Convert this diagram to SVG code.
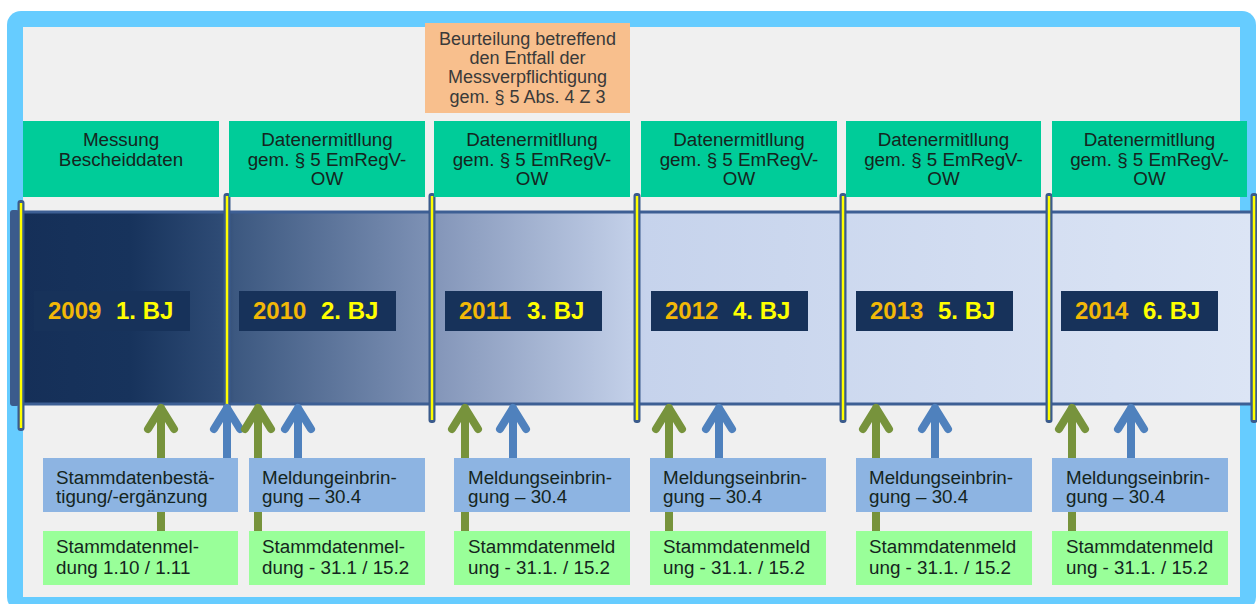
<svg xmlns="http://www.w3.org/2000/svg" width="1257" height="604" viewBox="0 0 1257 604">
<defs>
<linearGradient id="bandGrad" gradientUnits="userSpaceOnUse" x1="14" y1="0" x2="1252" y2="0">
<stop offset="0" stop-color="#152F58"/>
<stop offset="0.094" stop-color="#17335C"/>
<stop offset="0.17" stop-color="#2F4C76"/>
<stop offset="0.178" stop-color="#3C5880"/>
<stop offset="0.332" stop-color="#7C90B4"/>
<stop offset="0.344" stop-color="#8597BA"/>
<stop offset="0.498" stop-color="#C2CFE8"/>
<stop offset="0.51" stop-color="#C6D3EC"/>
<stop offset="1" stop-color="#DCE5F5"/>
</linearGradient>
<style>
.frame{fill:#66CCFF}
.inner{fill:#F0F0F0}
.green{fill:#00CC99}
.orange{fill:#F8BF8D}
.blue{fill:#8DB4E2}
.lgreen{fill:#99FF99}
.lbl{fill:#17325A}
.sep{fill:#3B5B8C}
.sepy{stroke:#FFFF00;stroke-width:2.5}
.t{font-family:"Liberation Sans",Arial,sans-serif;font-size:18.8px;fill:#152520}
.tc{text-anchor:middle}
.to{font-family:"Liberation Sans",Arial,sans-serif;font-size:18px;fill:#3A3A3A;text-anchor:middle}
.yr{font-family:"Liberation Sans",Arial,sans-serif;font-size:24px;font-weight:bold;fill:#F2B807}
.bj{font-family:"Liberation Sans",Arial,sans-serif;font-size:24px;font-weight:bold;fill:#FFFF00}
.ag{stroke:#77933C;stroke-width:8;fill:none;stroke-linecap:round;stroke-linejoin:round}
.ab{stroke:#4F81BD;stroke-width:8;fill:none;stroke-linecap:round;stroke-linejoin:round}
</style>
</defs>
<g id="background">
<rect class="frame" x="7" y="11" width="1249" height="600" rx="14"/>
<rect class="inner" x="23" y="27" width="1217" height="570"/>
</g>
<g id="band">
<rect x="14" y="212" width="1238" height="192" fill="url(#bandGrad)" stroke="#3D5F94" stroke-width="3"/>
<rect class="sep" x="10" y="210" width="9" height="196" rx="3"/>
</g>
<g id="separators">
<rect class="sep" x="17.5" y="200" width="7" height="231" rx="3"/><line class="sepy" x1="21" y1="203" x2="21" y2="428"/>
<rect class="sep" x="223.5" y="193" width="7" height="230" rx="3"/><line class="sepy" x1="227" y1="196" x2="227" y2="420"/>
<rect class="sep" x="428.5" y="193" width="7" height="230" rx="3"/><line class="sepy" x1="432" y1="196" x2="432" y2="420"/>
<rect class="sep" x="633.5" y="193" width="7" height="230" rx="3"/><line class="sepy" x1="637" y1="196" x2="637" y2="420"/>
<rect class="sep" x="839.5" y="193" width="7" height="230" rx="3"/><line class="sepy" x1="843" y1="196" x2="843" y2="420"/>
<rect class="sep" x="1045.5" y="193" width="7" height="230" rx="3"/><line class="sepy" x1="1049" y1="196" x2="1049" y2="420"/>
<rect class="sep" x="1250.5" y="193" width="7" height="230" rx="3"/><line class="sepy" x1="1254" y1="196" x2="1254" y2="420"/>
</g>
<g id="year1"><rect class="lbl" x="34" y="291" width="156" height="40"/><text class="yr" x="48" y="319">2009</text><text class="bj" x="116" y="319">1. BJ</text></g>
<g id="year2"><rect class="lbl" x="239" y="291" width="157" height="40"/><text class="yr" x="253" y="319">2010</text><text class="bj" x="321" y="319">2. BJ</text></g>
<g id="year3"><rect class="lbl" x="445" y="291" width="157" height="40"/><text class="yr" x="459" y="319">2011</text><text class="bj" x="527" y="319">3. BJ</text></g>
<g id="year4"><rect class="lbl" x="651" y="291" width="157" height="40"/><text class="yr" x="665" y="319">2012</text><text class="bj" x="733" y="319">4. BJ</text></g>
<g id="year5"><rect class="lbl" x="856" y="291" width="157" height="40"/><text class="yr" x="870" y="319">2013</text><text class="bj" x="938" y="319">5. BJ</text></g>
<g id="year6"><rect class="lbl" x="1061" y="291" width="157" height="40"/><text class="yr" x="1075" y="319">2014</text><text class="bj" x="1143" y="319">6. BJ</text></g>
<g id="assessment"><rect class="orange" x="425" y="23" width="205" height="90"/>
<text class="to" x="527.5" y="45">Beurteilung betreffend</text>
<text class="to" x="527.5" y="64">den Entfall der</text>
<text class="to" x="527.5" y="83">Messverpflichtigung</text>
<text class="to" x="527.5" y="103">gem. § 5 Abs. 4 Z 3</text></g>
<g id="phase1"><rect class="green" x="23" y="121" width="196" height="76"/>
<text class="t tc" x="121" y="146">Messung</text><text class="t tc" x="121" y="166">Bescheiddaten</text></g>
<g id="phase2"><rect class="green" x="229" y="121" width="196" height="76"/>
<text class="t tc" x="327" y="146">Datenermitllung</text><text class="t tc" x="327" y="166">gem. § 5 EmRegV-</text><text class="t tc" x="327" y="185">OW</text></g>
<g id="phase3"><rect class="green" x="434" y="121" width="196" height="76"/>
<text class="t tc" x="532" y="146">Datenermitllung</text><text class="t tc" x="532" y="166">gem. § 5 EmRegV-</text><text class="t tc" x="532" y="185">OW</text></g>
<g id="phase4"><rect class="green" x="641" y="121" width="196" height="76"/>
<text class="t tc" x="739" y="146">Datenermitllung</text><text class="t tc" x="739" y="166">gem. § 5 EmRegV-</text><text class="t tc" x="739" y="185">OW</text></g>
<g id="phase5"><rect class="green" x="846" y="121" width="195" height="76"/>
<text class="t tc" x="943.5" y="146">Datenermitllung</text><text class="t tc" x="943.5" y="166">gem. § 5 EmRegV-</text><text class="t tc" x="943.5" y="185">OW</text></g>
<g id="phase6"><rect class="green" x="1052" y="121" width="195" height="76"/>
<text class="t tc" x="1149.5" y="146">Datenermitllung</text><text class="t tc" x="1149.5" y="166">gem. § 5 EmRegV-</text><text class="t tc" x="1149.5" y="185">OW</text></g>
<g id="connectors">
<path class="ag" d="M161 531V408M148 429L161 408L174 429"/>
<path class="ab" d="M227 458V408M214 429L227 408L240 429"/>
<path class="ag" d="M258 531V408M245 429L258 408L271 429"/>
<path class="ab" d="M298 458V408M285 429L298 408L311 429"/>
<path class="ag" d="M465 531V408M452 429L465 408L478 429"/>
<path class="ab" d="M513 458V408M500 429L513 408L526 429"/>
<path class="ag" d="M669 531V408M656 429L669 408L682 429"/>
<path class="ab" d="M719 458V408M706 429L719 408L732 429"/>
<path class="ag" d="M876 531V408M863 429L876 408L889 429"/>
<path class="ab" d="M935 458V408M922 429L935 408L948 429"/>
<path class="ag" d="M1072 531V408M1059 429L1072 408L1085 429"/>
<path class="ab" d="M1131 458V408M1118 429L1131 408L1144 429"/>
</g>
<g id="confirm1"><rect class="blue" x="43" y="458" width="195" height="54"/>
<text class="t" x="56" y="484">Stammdatenbestä-</text><text class="t" x="56" y="503">tigung/-ergänzung</text></g>
<g id="report2"><rect class="blue" x="249" y="458" width="176" height="54"/>
<text class="t" x="262" y="484">Meldungeinbrin-</text><text class="t" x="262" y="503">gung – 30.4</text></g>
<g id="report3"><rect class="blue" x="454" y="458" width="176" height="54"/>
<text class="t" x="468" y="484">Meldungseinbrin-</text><text class="t" x="468" y="503">gung – 30.4</text></g>
<g id="report4"><rect class="blue" x="650" y="458" width="176" height="54"/>
<text class="t" x="663" y="484">Meldungseinbrin-</text><text class="t" x="663" y="503">gung – 30.4</text></g>
<g id="report5"><rect class="blue" x="856" y="458" width="176" height="54"/>
<text class="t" x="869" y="484">Meldungseinbrin-</text><text class="t" x="869" y="503">gung – 30.4</text></g>
<g id="report6"><rect class="blue" x="1052" y="458" width="176" height="54"/>
<text class="t" x="1066" y="484">Meldungseinbrin-</text><text class="t" x="1066" y="503">gung – 30.4</text></g>
<g id="master1"><rect class="lgreen" x="43" y="531" width="195" height="54"/>
<text class="t" x="56" y="553">Stammdatenmel-</text><text class="t" x="56" y="574">dung 1.10 / 1.11</text></g>
<g id="master2"><rect class="lgreen" x="249" y="531" width="176" height="54"/>
<text class="t" x="262" y="553">Stammdatenmel-</text><text class="t" x="262" y="574">dung - 31.1 / 15.2</text></g>
<g id="master3"><rect class="lgreen" x="454" y="531" width="176" height="54"/>
<text class="t" x="468" y="553">Stammdatenmeld</text><text class="t" x="468" y="574">ung - 31.1. / 15.2</text></g>
<g id="master4"><rect class="lgreen" x="650" y="531" width="176" height="54"/>
<text class="t" x="663" y="553">Stammdatenmeld</text><text class="t" x="663" y="574">ung - 31.1. / 15.2</text></g>
<g id="master5"><rect class="lgreen" x="856" y="531" width="176" height="54"/>
<text class="t" x="869" y="553">Stammdatenmeld</text><text class="t" x="869" y="574">ung - 31.1. / 15.2</text></g>
<g id="master6"><rect class="lgreen" x="1052" y="531" width="176" height="54"/>
<text class="t" x="1066" y="553">Stammdatenmeld</text><text class="t" x="1066" y="574">ung - 31.1. / 15.2</text></g>
</svg>
